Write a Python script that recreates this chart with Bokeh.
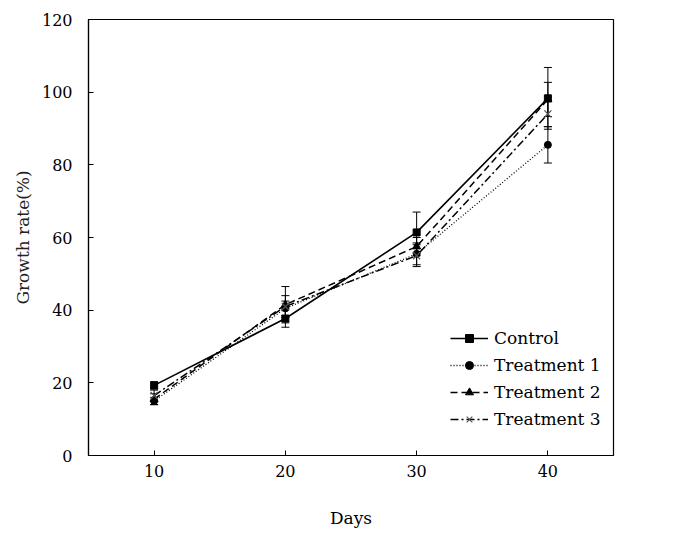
from bokeh.plotting import figure
from bokeh.models import ColumnDataSource, Whisker, Legend, LegendItem, FixedTicker, Range1d, TeeHead
from bokeh.embed import file_html
from bokeh.resources import INLINE

days = [10, 20, 30, 40]
control = [19.3, 37.7, 61.4, 98.3]
treat1 = [15.0, 40.5, 55.5, 85.5]
treat2 = [15.5, 41.5, 57.5, 98.0]
treat3 = [16.5, 41.0, 55.0, 94.0]
control_err = [1.0, 2.4, 5.6, 8.5]
treat1_err = [1.0, 2.0, 3.0, 5.0]
treat2_err = [1.5, 5.0, 2.5, 4.7]
treat3_err = [1.5, 3.0, 3.0, 3.5]
series_names = ["Control", "Treatment 1", "Treatment 2", "Treatment 3"]
x_ticks = [10, 20, 30, 40]
y_ticks = [0, 20, 40, 60, 80, 100, 120]

FONT = "DejaVu Serif"

p = figure(frame_width=525, frame_height=436, output_backend="svg", toolbar_location=None,
           x_range=Range1d(5, 45), y_range=Range1d(0, 120),
           min_border_left=88, min_border_right=68, min_border_top=19, min_border_bottom=87)
p.background_fill_color = "white"
p.border_fill_color = "white"
p.outline_line_color = "black"
p.outline_line_width = 1.2
p.xgrid.visible = False
p.ygrid.visible = False

for ax in (p.xaxis, p.yaxis):
    ax.axis_line_color = "black"
    ax.axis_line_width = 1.2
    ax.major_tick_out = 0
    ax.major_tick_in = 5
    ax.minor_tick_out = 0
    ax.minor_tick_in = 0
    ax.major_label_text_font = FONT
    ax.major_label_text_font_size = "16px"
    ax.major_label_text_color = "black"
    ax.axis_label_text_font = FONT
    ax.axis_label_text_font_style = "normal"
    ax.axis_label_text_font_size = "17px"
    ax.axis_label_text_color = "black"

p.xaxis.ticker = FixedTicker(ticks=x_ticks)
p.yaxis.ticker = FixedTicker(ticks=y_ticks)
p.xaxis.axis_label = "Days"
p.yaxis.axis_label = "Growth rate(%)"
p.yaxis.axis_label_text_color = "#222222"
p.xaxis.major_label_standoff = 9
p.yaxis.major_label_standoff = 16
p.xaxis.axis_label_standoff = 28
p.yaxis.axis_label_standoff = 6

specs = [
    (control, control_err, "solid", 1.6, "square", 7, "black"),
    (treat1, treat1_err, "1 2", 1.3, "circle", 7, "black"),
    (treat2, treat2_err, "7 4", 1.5, "triangle", 8, "black"),
    (treat3, treat3_err, "8 3 2 3", 1.5, "x", 10, "#555555"),
]

items = []
for name, (vals, errs, dash, lw, marker, msize, mcolor) in zip(series_names, specs):
    src = ColumnDataSource(dict(x=days, y=vals,
                                lo=[v - e for v, e in zip(vals, errs)],
                                hi=[v + e for v, e in zip(vals, errs)]))
    w = Whisker(source=src, base="x", lower="lo", upper="hi", line_color="black", line_width=1,
                upper_head=TeeHead(size=8, line_color="black", line_width=1),
                lower_head=TeeHead(size=8, line_color="black", line_width=1))
    p.add_layout(w)
    r1 = p.line("x", "y", source=src, line_color="black", line_width=lw, line_dash=dash)
    r2 = p.scatter("x", "y", source=src, marker=marker, size=msize,
                   fill_color="black", line_color=mcolor, line_width=1.2 if marker == "x" else 1)
    items.append(LegendItem(label=name, renderers=[r1, r2]))

legend = Legend(items=items, location=(362, 26), border_line_color=None,
                background_fill_alpha=0, label_text_font=FONT, label_text_font_size="17px",
                label_text_color="black", glyph_width=38, glyph_height=20, spacing=7,
                label_standoff=6, padding=4, margin=0)
p.add_layout(legend)

open("out.html", "w").write(file_html(p, INLINE))
